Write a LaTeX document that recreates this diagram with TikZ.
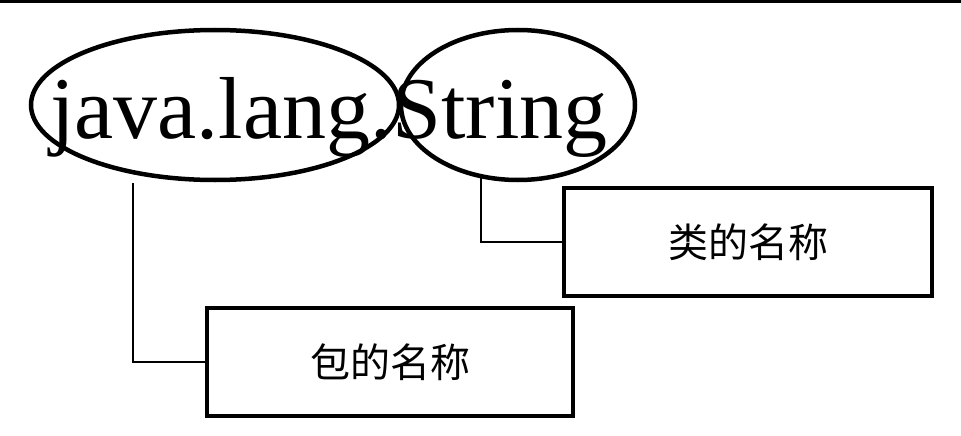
\documentclass[tikz,border=0pt]{standalone}
\usepackage{fontspec}
\setmainfont{Liberation Serif}
\newfontfamily\cjk{Noto Sans CJK SC}
\begin{document}
\begin{tikzpicture}[x=1pt,y=-1pt,
  ov/.style={draw,line width=4.5pt},
  lab/.style={draw,line width=3.5pt,inner sep=0pt,font=\cjk\fontsize{40}{40}\selectfont},
  conn/.style={line width=2.8pt}]
\useasboundingbox (0,0) rectangle (961,436);
\fill (0,0) rectangle (961,3);
\draw[ov] (215,105) ellipse [x radius=184,y radius=75];
\draw[ov] (518,105) ellipse [x radius=117,y radius=75];
\node[font=\fontsize{88}{88}\selectfont,anchor=base,inner sep=0pt] (t) at (329,138) {java.lang.String};
\node[lab,minimum width=368,minimum height=108] (b1) at (748,242) {类的名称};
\node[lab,minimum width=366,minimum height=108] (b2) at (390,362) {包的名称};
\coordinate (p1) at (133,183);
\coordinate (p2) at (481,176);
\draw[conn] (p1) |- (b2.west);
\draw[conn] (p2) |- (b1.west);
\end{tikzpicture}
\end{document}
